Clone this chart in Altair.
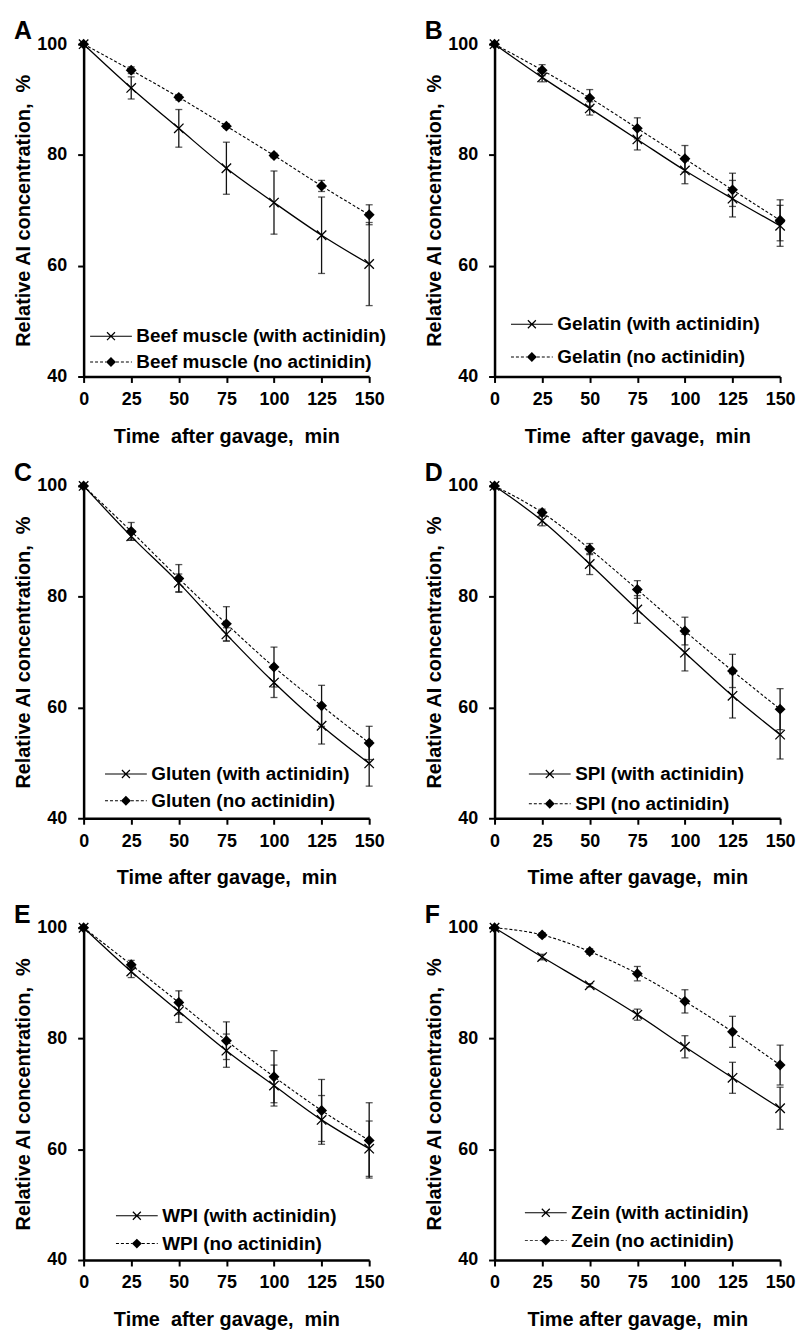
import altair as alt
import pandas as pd

# ---------------- data ----------------
time = [0, 25, 50, 75, 100, 125, 150]

beef_with = [100, 92.1, 84.8, 77.6, 71.4, 65.5, 60.3]
beef_with_err = [0, 2.0, 3.4, 4.7, 5.7, 6.9, 7.5]
beef_no = [100, 95.3, 90.4, 85.2, 79.9, 74.4, 69.2]
beef_no_err = [0, 0.6, 0.5, 0.4, 0.4, 1.0, 1.8]

gelatin_with = [100, 94.0, 88.4, 82.8, 77.2, 72.1, 67.2]
gelatin_with_err = [0, 0.8, 1.2, 1.9, 2.4, 3.3, 3.7]
gelatin_no = [100, 95.3, 90.3, 84.8, 79.3, 73.7, 68.2]
gelatin_no_err = [0, 1.0, 1.5, 1.9, 2.4, 3.0, 3.7]

gluten_with = [100, 90.9, 82.5, 73.2, 64.5, 56.7, 49.9]
gluten_with_err = [0, 0.7, 1.6, 1.2, 2.7, 3.3, 4.1]
gluten_no = [100, 91.8, 83.3, 75.1, 67.3, 60.3, 53.6]
gluten_no_err = [0, 1.6, 2.5, 3.1, 3.6, 3.7, 3.0]

spi_with = [100, 93.7, 85.9, 77.7, 69.9, 62.1, 55.1]
spi_with_err = [0, 0.9, 1.9, 2.5, 3.3, 4.0, 4.4]
spi_no = [100, 95.2, 88.6, 81.3, 73.8, 66.6, 59.7]
spi_no_err = [0, 0.6, 1.0, 1.6, 2.5, 3.0, 3.7]

wpi_with = [100, 92.1, 84.9, 77.8, 71.5, 65.3, 60.1]
wpi_with_err = [0, 1.1, 2.0, 3.0, 3.7, 4.4, 5.0]
wpi_no = [100, 93.3, 86.5, 79.6, 73.1, 67.0, 61.6]
wpi_no_err = [0, 0.8, 2.1, 3.4, 4.7, 5.6, 6.8]

zein_with = [100, 94.7, 89.6, 84.3, 78.5, 72.9, 67.4]
zein_with_err = [0, 0.5, 0.3, 1.0, 2.0, 2.8, 3.8]
zein_no = [100, 98.7, 95.7, 91.7, 86.7, 81.2, 75.2]
zein_no_err = [0, 0.4, 0.5, 1.3, 2.1, 2.8, 3.6]

panel_letters = ["A", "B", "C", "D", "E", "F"]
panel_names = ["Beef muscle", "Gelatin", "Gluten", "SPI", "WPI", "Zein"]
y_ticks = [40, 60, 80, 100]

# ---------------- styling ----------------
FONT = "Liberation Sans"
W, H = 287, 334
Y_TITLE = "Relative AI concentration,\u00a0 %"
X_TITLE_WIDE = "Time\u00a0 after gavage,\u00a0 min"
X_TITLE = "Time after gavage,\u00a0 min"

# marker shape for the plot (unit box -1..1, stroked)
X_MARK = "M-1,-1L1,1M-1,1L1,-1"

# legend symbols built from filled outlines (5 px per unit at symbolSize 100)
HL = 0.1   # half thickness of legend line


def hbar(a, b, h=HL):
    return f"M{a:.2f},{-h:.2f}V{h:.2f}H{b:.2f}V{-h:.2f}Z"


def dashed(a, b, dash=0.6, gap=0.4):
    segs = []
    s = a
    while s < b - 1e-6:
        e = min(s + dash, b)
        segs.append(hbar(s, e))
        s = e + gap
    return "".join(segs)


X_ARMS = ("M-0.885,-0.715L0.715,0.885L0.885,0.715L-0.715,-0.885Z"
          "M-0.715,0.885L0.885,-0.715L0.715,-0.885L-0.885,0.715Z")
LEG_WITH = hbar(-4.2, 4.2) + X_ARMS
LEG_NO = dashed(-4.2, -1.0) + dashed(1.0, 4.2) + "M0,-1L-1,0L0,1L1,0Z"


def panel(letter, name, w, w_err, n, n_err, leg_x, leg_y, row_pad, x_title):
    lab_w = f"{name} (with actinidin)"
    lab_n = f"{name} (no actinidin)"
    rows = []
    for t, v, e in zip(time, w, w_err):
        rows.append({"t": t, "v": v, "lo": v - e, "hi": v + e, "series": "with", "label": lab_w})
    for t, v, e in zip(time, n, n_err):
        rows.append({"t": t, "v": v, "lo": v - e, "hi": v + e, "series": "no", "label": lab_n})
    df = pd.DataFrame(rows)
    base = alt.Chart(df)

    x = alt.X("t:Q", title=x_title,
              scale=alt.Scale(domain=[0, 150], nice=False, zero=False),
              axis=alt.Axis(values=time, labelPadding=8, titlePadding=18, labelFlush=False))
    y = alt.Y("v:Q", title=Y_TITLE,
              scale=alt.Scale(domain=[40, 100], nice=False, zero=False),
              axis=alt.Axis(values=y_ticks, labelPadding=11, titlePadding=3, labelFlush=False))
    ylo = alt.Y("lo:Q", title=Y_TITLE,
                scale=alt.Scale(domain=[40, 100], nice=False, zero=False))

    err = base.mark_errorbar(ticks=True, size=7, thickness=1.3, color="#111111").encode(
        x=x, y=ylo, y2="hi:Q")
    line_w = base.transform_filter(alt.datum.series == "with").mark_line(
        interpolate="monotone", color="black", strokeWidth=1.3).encode(x=x, y=y)
    line_n = base.transform_filter(alt.datum.series == "no").mark_line(
        interpolate="monotone", color="black", strokeWidth=1.1, strokeDash=[3, 2]).encode(x=x, y=y)
    pts_w = base.transform_filter(alt.datum.series == "with").mark_point(
        shape=X_MARK, size=90, filled=False, color="black", strokeWidth=1.3, opacity=1).encode(x=x, y=y)
    pts_n = base.transform_filter(alt.datum.series == "no").mark_point(
        shape="diamond", size=120, filled=True, color="black", opacity=1).encode(x=x, y=y)
    leg = base.mark_point(opacity=0, filled=False, fill="black", stroke="black", strokeWidth=1.2).encode(
        x=x, y=y,
        shape=alt.Shape("label:N",
                        scale=alt.Scale(domain=[lab_w, lab_n], range=[LEG_WITH, LEG_NO]),
                        legend=alt.Legend(
                            title=None, orient="none", legendX=leg_x, legendY=leg_y,
                            direction="vertical", padding=0,
                            symbolSize=100, symbolStrokeWidth=1.2,
                            symbolStrokeColor="black", symbolFillColor="black",
                            symbolOpacity=1, symbolOffset=13, labelOffset=16,
                            labelFont=FONT, labelFontSize=19, labelFontWeight="bold",
                            labelColor="black", labelLimit=500, rowPadding=row_pad)))
    return alt.layer(leg, line_n, line_w, err, pts_n, pts_w).properties(
        width=W, height=H,
        title=alt.Title(letter, anchor="start", frame="bounds", fontSize=25,
                        font=FONT, fontWeight="bold", color="black", offset=-9))


panels = [
    panel("A", panel_names[0], beef_with, beef_with_err, beef_no, beef_no_err, 5, 284, 6, X_TITLE_WIDE),
    panel("B", panel_names[1], gelatin_with, gelatin_with_err, gelatin_no, gelatin_no_err, 15, 272, 13, X_TITLE_WIDE),
    panel("C", panel_names[2], gluten_with, gluten_with_err, gluten_no, gluten_no_err, 20, 280, 7, X_TITLE),
    panel("D", panel_names[3], spi_with, spi_with_err, spi_no, spi_no_err, 33, 280, 10, X_TITLE),
    panel("E", panel_names[4], wpi_with, wpi_with_err, wpi_no, wpi_no_err, 31, 280, 8, X_TITLE_WIDE),
    panel("F", panel_names[5], zein_with, zein_with_err, zein_no, zein_no_err, 29, 277, 8, X_TITLE),
]

chart = alt.concat(*panels, columns=2, spacing={"row": 110, "column": 126}, bounds="flush").resolve_scale(
    shape="independent").resolve_legend(shape="independent").properties(
    padding={"left": 5, "top": 8, "right": 5, "bottom": 0}
).configure_view(stroke=None).configure_axis(
    grid=False, domainColor="black", domainWidth=2.5, tickColor="black", tickWidth=2, tickSize=6,
    labelFont=FONT, labelFontSize=18, labelFontWeight="bold", labelColor="black", labelFlush=False,
    titleFont=FONT, titleFontSize=20, titleFontWeight="bold", titleColor="black",
).configure_axisY(titleFontSize=20)

chart.save("out.html", embed_options={"renderer": "svg", "actions": False})
